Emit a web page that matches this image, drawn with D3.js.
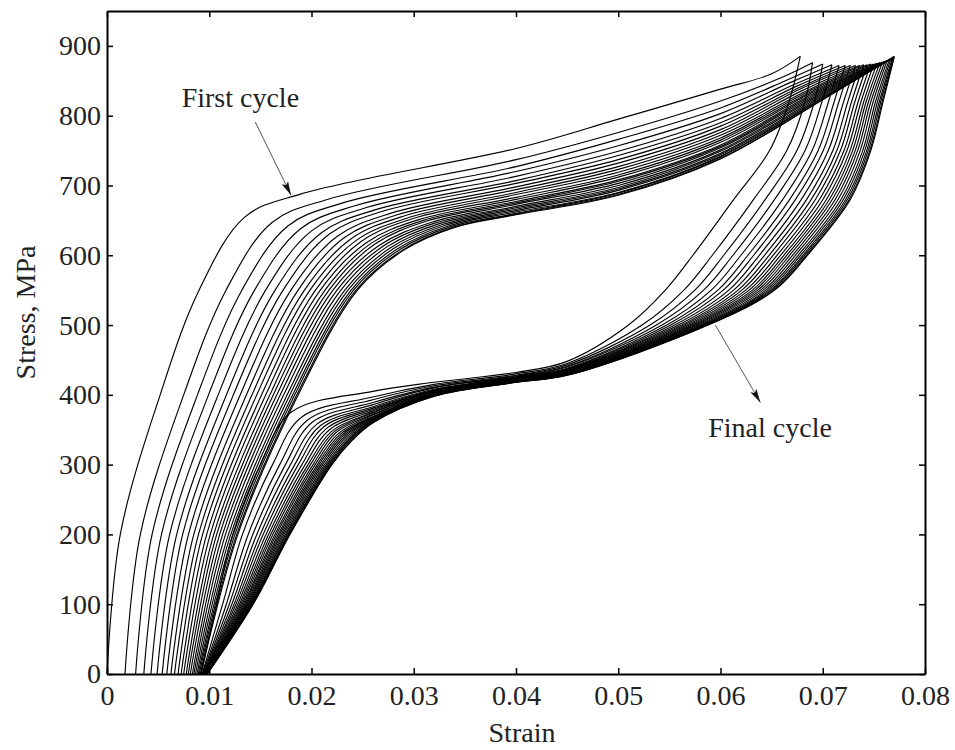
<!DOCTYPE html>
<html>
<head>
<meta charset="utf-8">
<script src="https://cdn.jsdelivr.net/npm/d3@7"></script>
<style>
  body { margin: 0; background: #fff; }
  svg { display: block; }
  text { font-family: "Liberation Serif", "Times New Roman", serif; fill: #222; }
</style>
</head>
<body>
<svg id="chart" width="955" height="750"></svg>
<script>
// Strain is kept in units of 1e-3, stress in MPa.
// Every column below holds one value per cycle, first cycle -> final cycle.

const xTicks = [0, 10, 20, 30, 40, 50, 60, 70, 80];
const xTickLabels = ["0", "0.01", "0.02", "0.03", "0.04", "0.05", "0.06", "0.07", "0.08"];
const yTicks = [0, 100, 200, 300, 400, 500, 600, 700, 800, 900];

// ---- loading branches ----
// strain where each loading curve crosses 0, 200, 400, 550 MPa
const loadE0   = [0, 1.76, 2.8, 3.6, 4.3, 4.9, 5.4, 5.85, 6.25, 6.6, 6.95, 7.25, 7.5, 7.75, 7.95, 8.15, 8.35, 8.5, 8.65, 8.8, 8.92, 9.02, 9.12, 9.2];
const loadE200 = [1.3, 3.26, 4.41, 5.33, 6.13, 6.82, 7.4, 7.97, 8.49, 8.95, 9.35, 9.75, 10.1, 10.44, 10.73, 11.02, 11.31, 11.59, 11.88, 12.11, 12.34, 12.51, 12.69, 12.8];
const loadE400 = [5.2, 7.5, 8.85, 9.93, 10.87, 11.68, 12.36, 13.03, 13.64, 14.18, 14.65, 15.12, 15.53, 15.93, 16.27, 16.61, 16.95, 17.28, 17.62, 17.89, 18.16, 18.36, 18.57, 18.7];
const loadE550 = [9.0, 11.64, 13.19, 14.43, 15.51, 16.44, 17.22, 17.99, 18.69, 19.31, 19.85, 20.39, 20.86, 21.32, 21.71, 22.1, 22.49, 22.87, 23.26, 23.57, 23.88, 24.11, 24.35, 24.5];
// two points through the upper knee
const kneeAE = [13.5, 16.14, 17.69, 18.93, 20.01, 20.94, 21.72, 22.49, 23.19, 23.81, 24.35, 24.89, 25.36, 25.82, 26.21, 26.6, 26.99, 27.37, 27.76, 28.07, 28.38, 28.61, 28.85, 29];
const kneeAS = [655, 647, 642, 638, 635, 632, 630, 627, 625, 623, 621, 620, 618, 617, 616, 614, 613, 612, 611, 610, 609, 608, 607, 607];
const kneeBE = [19, 21.55, 23.05, 24.25, 25.3, 26.2, 26.95, 27.7, 28.38, 28.98, 29.5, 30.03, 30.48, 30.93, 31.3, 31.68, 32.05, 32.43, 32.8, 33.1, 33.4, 33.63, 33.85, 34];
const kneeBS = [688, 680, 675, 671, 668, 665, 663, 660, 658, 656, 654, 653, 651, 650, 649, 647, 646, 645, 644, 643, 642, 641, 640, 640];
// stress on the upper plateau at strain 0.04, 0.05, 0.06
const loadS40 = [753, 737, 727, 720, 713, 707, 703, 698, 694, 690, 687, 683, 680, 677, 675, 673, 670, 668, 666, 664, 662, 660, 659, 658];
const loadS50 = [795, 776, 766, 757, 749, 743, 737, 732, 727, 723, 719, 715, 712, 708, 706, 703, 700, 697, 695, 693, 690, 689, 687, 686];
const loadS60 = [838, 821, 811, 803, 796, 790, 785, 780, 776, 772, 768, 765, 762, 758, 756, 754, 751, 749, 746, 744, 742, 741, 739, 738];
// last point before the peak, and the peak
const prePeakE = [65, 65.85, 66.35, 66.75, 67.1, 67.4, 67.65, 67.9, 68.13, 68.33, 68.5, 68.68, 68.83, 68.98, 69.1, 69.23, 69.35, 69.48, 69.6, 69.7, 69.8, 69.88, 69.95, 70];
const prePeakS = [860, 854, 850, 847, 844, 842, 840, 839, 837, 835, 834, 833, 832, 831, 830, 829, 828, 827, 826, 825, 824, 824, 823, 823];
const peakE = [67.8, 69.0, 70.0, 70.9, 71.6, 72.2, 72.7, 73.2, 73.6, 74.0, 74.35, 74.7, 75.0, 75.3, 75.6, 75.85, 76.1, 76.3, 76.5, 76.65, 76.8, 76.9, 76.97, 77.0];
const peakS = [885, 876, 874, 873, 872, 872, 872, 872, 872, 873, 873, 874, 874, 875, 876, 877, 878, 879, 880, 881, 882, 883, 884, 885];

// ---- unloading branches ----
// strain where each unloading curve crosses 820, 750, 680, 600, 550, 500 MPa
const unloadE820 = [66.7, 68.26, 69.18, 69.92, 70.56, 71.12, 71.58, 72.04, 72.45, 72.82, 73.14, 73.46, 73.74, 74.01, 74.24, 74.47, 74.7, 74.93, 75.16, 75.35, 75.53, 75.67, 75.81, 75.9];
const unloadE750 = [64.8, 66.48, 67.47, 68.27, 68.96, 69.55, 70.05, 70.54, 70.99, 71.38, 71.73, 72.08, 72.37, 72.67, 72.92, 73.17, 73.41, 73.66, 73.91, 74.11, 74.3, 74.45, 74.6, 74.7];
const unloadE680 = [61.3, 63.24, 64.38, 65.29, 66.09, 66.77, 67.34, 67.91, 68.43, 68.88, 69.28, 69.68, 70.02, 70.36, 70.65, 70.93, 71.22, 71.5, 71.79, 72.02, 72.24, 72.42, 72.59, 72.7];
const unloadE600 = [57.3, 59.2, 60.32, 61.22, 62.0, 62.68, 63.24, 63.8, 64.3, 64.75, 65.14, 65.53, 65.87, 66.2, 66.48, 66.76, 67.04, 67.32, 67.6, 67.83, 68.05, 68.22, 68.39, 68.5];
const unloadE550 = [54.6, 56.42, 57.49, 58.35, 59.09, 59.74, 60.27, 60.81, 61.29, 61.72, 62.09, 62.46, 62.79, 63.11, 63.37, 63.64, 63.91, 64.18, 64.44, 64.66, 64.87, 65.03, 65.19, 65.3];
const unloadE500 = [51, 52.33, 53.11, 53.73, 54.28, 54.74, 55.13, 55.52, 55.88, 56.19, 56.46, 56.73, 56.97, 57.2, 57.4, 57.59, 57.79, 57.98, 58.18, 58.33, 58.49, 58.61, 58.72, 58.8];
// stress on the lower plateau at strain 0.045, 0.04, 0.032, 0.026
const unloadS45 = [448, 445, 443, 441, 440, 438, 437, 436, 436, 435, 434, 433, 433, 432, 432, 431, 431, 430, 430, 429, 429, 429, 428, 428];
const unloadS40 = [432, 430, 428, 427, 426, 425, 425, 424, 423, 423, 422, 422, 421, 421, 421, 420, 420, 419, 419, 419, 419, 418, 418, 418];
const unloadS32 = [418, 415, 413, 411, 410, 408, 407, 406, 406, 405, 404, 403, 403, 402, 402, 401, 401, 400, 400, 399, 399, 399, 398, 398];
const unloadS26 = [405, 397, 393, 389, 386, 383, 381, 379, 377, 375, 374, 372, 371, 369, 368, 367, 366, 365, 364, 363, 362, 361, 360, 360];
// lower knee
const lowKneeE = [18, 19.02, 19.62, 20.1, 20.52, 20.88, 21.18, 21.48, 21.75, 21.99, 22.2, 22.41, 22.59, 22.77, 22.92, 23.07, 23.22, 23.37, 23.52, 23.64, 23.76, 23.85, 23.94, 24];
const lowKneeS = [375, 368, 364, 361, 358, 356, 354, 352, 350, 348, 347, 346, 344, 343, 342, 341, 340, 339, 338, 337, 337, 336, 335, 335];
// strain where each unloading curve crosses 300, 200, 100, 0 MPa
const unloadE300 = [15, 16.19, 16.89, 17.45, 17.94, 18.36, 18.71, 19.06, 19.38, 19.66, 19.9, 20.15, 20.36, 20.57, 20.74, 20.92, 21.09, 21.27, 21.44, 21.58, 21.72, 21.83, 21.93, 22];
const unloadE200 = [12.3, 13.25, 13.81, 14.26, 14.65, 14.99, 15.27, 15.55, 15.8, 16.02, 16.22, 16.42, 16.58, 16.75, 16.89, 17.03, 17.17, 17.31, 17.45, 17.56, 17.68, 17.76, 17.84, 17.9];
const unloadE100 = [10.7, 11.31, 11.67, 11.96, 12.21, 12.43, 12.61, 12.79, 12.95, 13.09, 13.22, 13.35, 13.45, 13.56, 13.65, 13.74, 13.83, 13.92, 14.01, 14.08, 14.16, 14.21, 14.26, 14.3];
const unloadE0   = [9.2, 9.3, 9.36, 9.41, 9.45, 9.49, 9.52, 9.55, 9.58, 9.6, 9.62, 9.64, 9.66, 9.68, 9.69, 9.71, 9.72, 9.74, 9.75, 9.76, 9.78, 9.79, 9.79, 9.8];


const margin = {top: 11, right: 30, bottom: 76, left: 107};
const width = 955, height = 750;

const svg = d3.select('#chart');

const x = d3.scaleLinear()
  .domain([0, 80])
  .range([margin.left, width - margin.right]);

const y = d3.scaleLinear()
  .domain([0, 950])
  .range([height - margin.bottom, margin.top]);

// Build the point list of every branch from the columns
const branches = [];
peakE.forEach((_, i) => {
  branches.push([
    [loadE0[i], 0], [loadE200[i], 200], [loadE400[i], 400], [loadE550[i], 550],
    [kneeAE[i], kneeAS[i]], [kneeBE[i], kneeBS[i]],
    [40, loadS40[i]], [50, loadS50[i]], [60, loadS60[i]],
    [prePeakE[i], prePeakS[i]], [peakE[i], peakS[i]]
  ]);
  branches.push([
    [peakE[i], peakS[i]], [unloadE820[i], 820], [unloadE750[i], 750], [unloadE680[i], 680],
    [unloadE600[i], 600], [unloadE550[i], 550], [unloadE500[i], 500],
    [45, unloadS45[i]], [40, unloadS40[i]], [32, unloadS32[i]], [26, unloadS26[i]],
    [lowKneeE[i], lowKneeS[i]],
    [unloadE300[i], 300], [unloadE200[i], 200], [unloadE100[i], 100], [unloadE0[i], 0]
  ]);
});

const line = d3.line()
  .x(d => x(d[0]))
  .y(d => y(d[1]))
  .curve(d3.curveCatmullRom.alpha(0.5));

svg.append('g')
  .attr('class', 'curves')
  .selectAll('path')
  .data(branches)
  .join('path')
  .attr('d', line)
  .attr('fill', 'none')
  .attr('stroke', '#000')
  .attr('stroke-width', 1.15)
  .attr('stroke-linejoin', 'round');

// Axes, ticks point into the plot on all four sides
const fontSize = 28;

svg.append('g')
  .attr('transform', `translate(0,${y(0)})`)
  .call(d3.axisBottom(x)
    .tickValues(xTicks)
    .tickFormat((d, i) => xTickLabels[i])
    .tickSize(-6)
    .tickSizeOuter(0)
    .tickPadding(11));

svg.append('g')
  .attr('transform', `translate(${x(0)},0)`)
  .call(d3.axisLeft(y)
    .tickValues(yTicks)
    .tickFormat(d3.format('d'))
    .tickSize(-6)
    .tickSizeOuter(0)
    .tickPadding(6));

svg.append('g')
  .attr('transform', `translate(0,${margin.top})`)
  .call(d3.axisTop(x).tickValues(xTicks).tickFormat('').tickSize(-6).tickSizeOuter(0));

svg.append('g')
  .attr('transform', `translate(${x(80)},0)`)
  .call(d3.axisRight(y).tickValues(yTicks).tickFormat('').tickSize(-6).tickSizeOuter(0));

svg.selectAll('.domain').attr('stroke', '#000').attr('stroke-width', 2);
svg.selectAll('.tick line').attr('stroke', '#000').attr('stroke-width', 1.5);
svg.selectAll('.tick text')
  .style('font-family', '"Liberation Serif", "Times New Roman", serif')
  .style('font-size', fontSize + 'px')
  .attr('fill', '#222');

// Axis titles
svg.append('text')
  .attr('x', (x(0) + x(80)) / 2 + 6)
  .attr('y', 742)
  .attr('text-anchor', 'middle')
  .style('font-size', fontSize + 'px')
  .text('Strain');

svg.append('text')
  .attr('transform', `translate(35,${(y(0) + y(950)) / 2 - 30}) rotate(-90)`)
  .attr('text-anchor', 'middle')
  .style('font-size', fontSize + 'px')
  .text('Stress, MPa');

// Annotation arrows
svg.append('defs').append('marker')
  .attr('id', 'head')
  .attr('viewBox', '0 0 14 8')
  .attr('refX', 14)
  .attr('refY', 4)
  .attr('markerWidth', 14)
  .attr('markerHeight', 8)
  .attr('markerUnits', 'userSpaceOnUse')
  .attr('orient', 'auto')
  .append('path')
  .attr('d', 'M0,0.5 L14,4 L0,7.5 L3,4 Z')
  .attr('fill', '#111');

function note(label, tx, ty, from, to) {
  svg.append('text')
    .attr('x', x(tx))
    .attr('y', y(ty))
    .style('font-size', fontSize + 'px')
    .text(label);
  svg.append('line')
    .attr('x1', x(from[0])).attr('y1', y(from[1]))
    .attr('x2', x(to[0])).attr('y2', y(to[1]))
    .attr('stroke', '#555')
    .attr('stroke-width', 1)
    .attr('marker-end', 'url(#head)');
}

note('First cycle', 7.3, 813, [14.5, 791], [18.0, 686]);
note('Final cycle', 58.8, 340, [59.5, 500], [63.9, 389]);
</script>
</body>
</html>
